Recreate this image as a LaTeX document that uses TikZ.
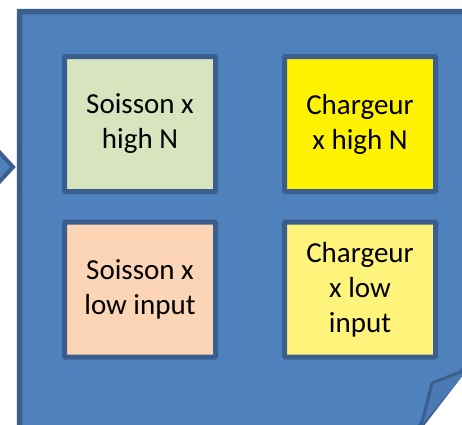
\documentclass[tikz,border=0pt]{standalone}
\usepackage{fontspec}
\setmainfont{Carlito}
\usepackage{tikz}

\definecolor{sheet}{HTML}{4F81BD}
\definecolor{edge}{HTML}{3A5F8E}
\definecolor{flap}{HTML}{4A79B3}
\definecolor{sage}{HTML}{D7E4BD}
\definecolor{peach}{HTML}{FBD5B5}
\definecolor{lemon}{HTML}{FFF47B}

\begin{document}
\begin{tikzpicture}[x=1pt,y=-1pt,
  box/.style={draw=edge,line width=5pt,minimum width=151pt,minimum height=135pt,
    align=center,font=\fontsize{29}{35}\selectfont,rounded corners=1pt}]
  \useasboundingbox (0,0) rectangle (462,424);
  % arrow tip on the left
  \draw[edge,fill=sheet,line width=4pt]
    (-10,142)
    --
    (13,167)
    --
    (-10,192);
  % the sheet with its cut corner
  \draw[edge,fill=sheet,line width=5.5pt]
    (19.7,11.7)
    --
    (475,11.7)
    --
    (475,355)
    --
    (415,433)
    --
    (19.7,433)
    -- cycle;
  % folded corner
  \draw[edge,fill=flap,line width=3pt,line join=round]
    (468,369)
    --
    (432,383)
    --
    (421,426);
  \node[box,fill=sage] (soishigh) at (140,124) {Soisson x\\high N};
  \node[box,fill=yellow] (charhigh) at (360,124) {Chargeur\\x high N};
  \node[box,fill=peach] (soislow) at (140,289.5) {Soisson x\\low input};
  \node[box,fill=lemon] (charlow) at (360,289.5) {Chargeur\\x low\\input};
\end{tikzpicture}
\end{document}
